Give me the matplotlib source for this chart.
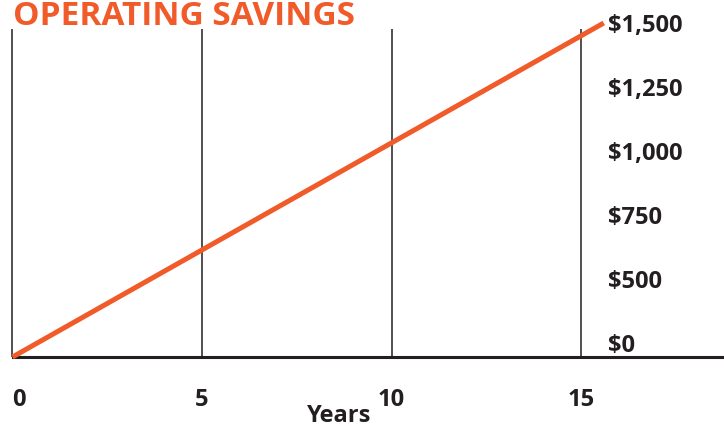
import matplotlib
matplotlib.use("Agg")
import matplotlib.pyplot as plt
import numpy as np

# ---- data ----
title = "OPERATING SAVINGS"
years = [0, 15.6]
savings = [0, 1500]
x_ticks = [0, 5, 10, 15]
x_tick_labels = ["0", "5", "10", "15"]
y_tick_labels = ["$0", "$500", "$750", "$1,000", "$1,250", "$1,500"]
x_label = "Years"

ORANGE = "#F15A29"
DARK = "#231F20"
FONT = ["Open Sans", "DejaVu Sans"]

W, H = 724, 428
fig = plt.figure(figsize=(W / 100, H / 100), dpi=100)

# layout in pixels
x0_px = 12.5          # pixel of year 0
px_per_year = 37.9
base_px = 357         # baseline (y = 0) from top
right_px = 604
ax = fig.add_axes([0, (H - base_px) / H, right_px / W, base_px / H])
ax.set_xlim(-x0_px / px_per_year, (right_px - x0_px) / px_per_year)
val_per_px = savings[-1] / (base_px - 23)
ax.set_ylim(0, base_px * val_per_px)

# grid verticals
ax.vlines(x_ticks, 0, (base_px - 29) * val_per_px, color=DARK, lw=1.1, zorder=1)

# data line
ax.plot(years, savings, color=ORANGE, lw=3.6, solid_capstyle="butt", clip_on=False, zorder=3)

# baseline
ax.axhline(0, xmin=x0_px / right_px, xmax=W / right_px, color=DARK, lw=2.2, clip_on=False, zorder=2)

for s in ax.spines.values():
    s.set_visible(False)

# x ticks
ax.set_xticks(x_ticks)
ax.set_xticklabels(x_tick_labels, fontsize=17, fontweight="bold", family=FONT, color=DARK)
ax.tick_params(axis="x", length=0, pad=22)
ax.get_xticklabels()[0].set_horizontalalignment("left")

# y ticks on right, evenly spaced label rows
label_base_px = np.linspace(352, 32, len(y_tick_labels))
ax.yaxis.tick_right()
ax.set_yticks((base_px - label_base_px) * val_per_px)
ax.set_yticklabels(y_tick_labels, fontsize=17, fontweight="bold", family=FONT, color=DARK)
ax.tick_params(axis="y", length=0, pad=3)
for t in ax.get_yticklabels():
    t.set_verticalalignment("baseline")

# x label
fig.text(339 / W, 1 - 422 / H, x_label, ha="center", va="baseline",
         fontsize=17, fontweight="bold", family=FONT, color=DARK)

# title
fig.text(13 / W, 1 - 25 / H, title, ha="left", va="baseline",
         fontsize=24, fontweight="bold", family=FONT, color=ORANGE)

fig.savefig("out.png", dpi=100)
